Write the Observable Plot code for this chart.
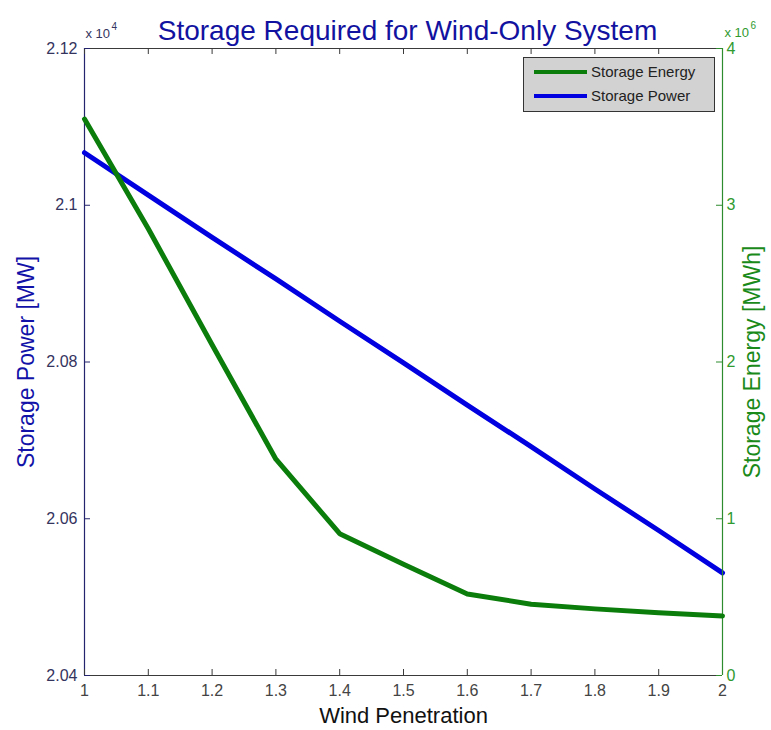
<!DOCTYPE html>
<html>
<head>
<meta charset="utf-8">
<script src="https://cdn.jsdelivr.net/npm/d3@7"></script>
<script src="https://cdn.jsdelivr.net/npm/@observablehq/plot@0.6"></script>
<style>
  body { margin: 0; background: white; font-family: "Liberation Sans", Arial, sans-serif; }
  #wrap { position: relative; width: 771px; height: 730px; }
  #wrap svg { position: absolute; left: 0; top: 0; }
  #legend { position: absolute; left: 523px; top: 57px; width: 190px; height: 53px; background: #d2d2d2; border: 1px solid #333; }
  .item { position: absolute; left: 0; height: 20px; width: 190px; }
  .swatch { position: absolute; left: 10px; top: 8px; width: 53px; height: 4px; }
  .lab { position: absolute; left: 67px; top: 1px; font-size: 15px; color: #222; white-space: nowrap; }
</style>
</head>
<body>
<div id="wrap"></div>
<script>
// ---- data ----
const windPenetration = [1, 1.1, 1.2, 1.3, 1.4, 1.5, 1.6, 1.7, 1.8, 1.9, 2];
const storagePower = [21067, 21013, 20959, 20906, 20852, 20799, 20745, 20692, 20638, 20585, 20531]; // MW
const storageEnergy = [3.55e6, 2.85e6, 2.11e6, 1.38e6, 0.905e6, 0.71e6, 0.52e6, 0.455e6, 0.425e6, 0.40e6, 0.38e6]; // MWh
const xTicks = [1, 1.1, 1.2, 1.3, 1.4, 1.5, 1.6, 1.7, 1.8, 1.9, 2];
const powerTicks = [20400, 20600, 20800, 21000, 21200];
const energyTicks = [0, 1e6, 2e6, 3e6, 4e6];
const seriesNames = ["Storage Energy", "Storage Power"];
const titleText = "Storage Required for Wind-Only System";
const xLabel = "Wind Penetration";
const yLeftLabel = "Storage Power [MW]";
const yRightLabel = "Storage Energy [MWh]";

const BLUE = "#0000e0", GREEN = "#0a7d0a";
const W = 771, H = 730;
const M = {left: 84, right: 49, top: 48, bottom: 55};
const frameW = W - M.left - M.right, frameH = H - M.top - M.bottom;

const powerData = windPenetration.map((x, i) => ({x, v: storagePower[i]}));
const energyData = windPenetration.map((x, i) => ({x, v: storageEnergy[i]}));

const common = {
  width: W, height: H,
  marginLeft: M.left, marginRight: M.right, marginTop: M.top, marginBottom: M.bottom,
};

const chart1 = Plot.plot({
  ...common,
  style: {background: "white", fontFamily: "'Liberation Sans', Arial, sans-serif"},
  x: {domain: [1, 2]},
  y: {domain: [20400, 21200]},
  marks: [
    // spines
    Plot.ruleY([20400, 21200], {stroke: "#3a3a3a", strokeWidth: 1.2}),
    Plot.ruleX([1], {stroke: "#24246e", strokeWidth: 1.2}),
    // x ticks (bottom pointing up, top pointing down)
    Plot.ruleX(xTicks, {x: d => d, insetTop: frameH - 6, stroke: "#3a3a3a"}),
    Plot.ruleX(xTicks, {x: d => d, insetBottom: frameH - 6, stroke: "#3a3a3a"}),
    // left ticks pointing inward
    Plot.ruleY(powerTicks, {y: d => d, insetRight: frameW - 6, stroke: "#24246e"}),
    Plot.axisY(powerTicks, {anchor: "left", tickSize: 0, tickPadding: 7, label: null,
      tickFormat: d => String(+(d / 1e4).toFixed(2)), fill: "#34345e", fontSize: 16}),
    Plot.axisX(xTicks, {anchor: "bottom", tickSize: 0, tickPadding: 9, label: null,
      tickFormat: d => String(d), fill: "#444", fontSize: 16}),
    Plot.line(powerData, {x: "x", y: "v", stroke: BLUE, strokeWidth: 5}),
    // texts
    Plot.text([titleText], {text: d => d, frameAnchor: "top", lineAnchor: "middle", dx: 4, dy: -17, fontSize: 28, fill: "#1212a0"}),
    Plot.text([xLabel], {text: d => d, frameAnchor: "bottom", lineAnchor: "middle", dy: 40, fontSize: 22, fill: "#111"}),
    Plot.text([yLeftLabel], {text: d => d, frameAnchor: "left", textAnchor: "middle", lineAnchor: "middle", dx: -58, rotate: -90, fontSize: 23, fill: "#1212a8"}),
    Plot.text(["x 10"], {text: d => d, frameAnchor: "top-left", lineAnchor: "middle", dx: 1, dy: -15, textAnchor: "start", fontSize: 13, fill: "#34345e"}),
    Plot.text(["4"], {text: d => d, frameAnchor: "top-left", lineAnchor: "middle", dx: 27, dy: -22, textAnchor: "start", fontSize: 10, fill: "#34345e"})
  ]
});

const chart2 = Plot.plot({
  ...common,
  style: {background: "transparent", fontFamily: "'Liberation Sans', Arial, sans-serif"},
  x: {domain: [1, 2], axis: null},
  y: {domain: [0, 4e6], axis: null},
  marks: [
    Plot.ruleX([2], {stroke: "#2e8b2e", strokeWidth: 1.2}),
    Plot.ruleY(energyTicks, {y: d => d, insetLeft: frameW - 6, stroke: "#2e8b2e"}),
    Plot.axisY(energyTicks, {anchor: "right", tickSize: 0, tickPadding: 4, label: null,
      tickFormat: d => String(d / 1e6), fill: "#2f9a2f", fontSize: 16}),
    Plot.line(energyData, {x: "x", y: "v", stroke: GREEN, strokeWidth: 5}),
    Plot.text([yRightLabel], {text: d => d, frameAnchor: "right", textAnchor: "middle", lineAnchor: "middle", dx: 30, rotate: -90, fontSize: 23, fill: "#1a8a1a"}),
    Plot.text(["x 10"], {text: d => d, frameAnchor: "top-right", lineAnchor: "middle", dx: 2, dy: -16, textAnchor: "start", fontSize: 13, fill: "#2f9a2f"}),
    Plot.text(["6"], {text: d => d, frameAnchor: "top-right", lineAnchor: "middle", dx: 28, dy: -23, textAnchor: "start", fontSize: 10, fill: "#2f9a2f"})
  ]
});

const wrap = document.getElementById("wrap");
wrap.appendChild(chart1);
wrap.appendChild(chart2);

// legend
const legend = document.createElement("div");
legend.id = "legend";
const legendColors = [GREEN, BLUE];
seriesNames.forEach((name, i) => {
  const item = document.createElement("div");
  item.className = "item";
  item.style.top = (4 + i * 24) + "px";
  item.innerHTML = `<div class="swatch" style="background:${legendColors[i]}"></div><div class="lab">${name}</div>`;
  legend.appendChild(item);
});
wrap.appendChild(legend);
</script>
</body>
</html>
